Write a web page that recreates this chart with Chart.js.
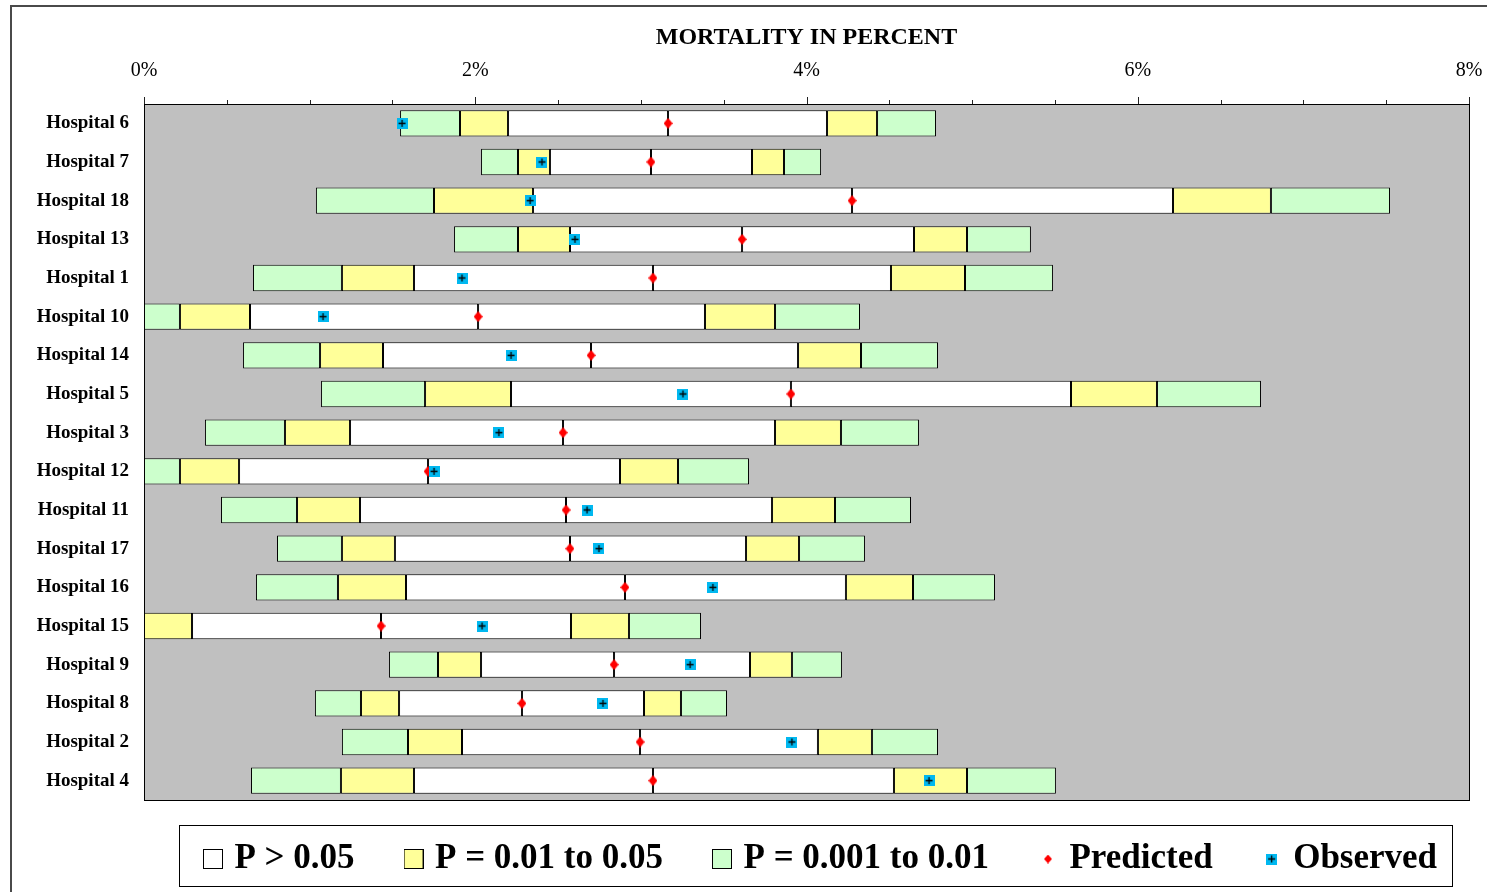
<!DOCTYPE html>
<html>
<head>
<meta charset="utf-8">
<title>Mortality in percent</title>
<script src="https://cdn.jsdelivr.net/npm/chart.js@4.4.1/dist/chart.umd.min.js"></script>
<style>
  html, body { margin: 0; padding: 0; background: #fff; }
  #wrap { position: relative; width: 1487px; height: 892px; overflow: hidden; }
  #frame { position: absolute; left: 10px; top: 5px; right: -4px; bottom: -4px;
           border-top: 2px solid #4a4a4a; border-left: 2px solid #4a4a4a; }
  canvas { position: absolute; left: 0; top: 0; }
</style>
</head>
<body>
<div id="wrap">
  <div id="frame"></div>
  <canvas id="mortalityChart" width="1487" height="892"></canvas>
</div>
<script>
// hospitals, top to bottom
const hospitals = ['Hospital 6', 'Hospital 7', 'Hospital 18', 'Hospital 13', 'Hospital 1', 'Hospital 10',
  'Hospital 14', 'Hospital 5', 'Hospital 3', 'Hospital 12', 'Hospital 11', 'Hospital 17', 'Hospital 16',
  'Hospital 15', 'Hospital 9', 'Hospital 8', 'Hospital 2', 'Hospital 4'];

// control limits (mortality %), lower side
const greenLow  = [1.546, 2.035, 1.038, 1.872, 0.658, 0, 0.598, 1.069, 0.368, 0, 0.465, 0.803, 0.676, null, 1.479, 1.032, 1.195, 0.646];
const yellowLow = [1.908, 2.258, 1.751, 2.258, 1.195, 0.217, 1.063, 1.697, 0.851, 0.217, 0.924, 1.195, 1.171, 0, 1.775, 1.310, 1.594, 1.189];
const whiteLow  = [2.198, 2.451, 2.349, 2.572, 1.630, 0.640, 1.443, 2.216, 1.244, 0.574, 1.304, 1.515, 1.582, 0.290, 2.035, 1.540, 1.920, 1.630];
// upper side
const whiteHigh  = [4.124, 3.671, 6.213, 4.649, 4.510, 3.387, 3.949, 5.597, 3.810, 2.874, 3.792, 3.635, 4.238, 2.578, 3.659, 3.019, 4.069, 4.528];
const yellowHigh = [4.426, 3.864, 6.804, 4.969, 4.957, 3.810, 4.329, 6.116, 4.208, 3.224, 4.172, 3.955, 4.643, 2.928, 3.912, 3.242, 4.395, 4.969];
const greenHigh  = [4.782, 4.088, 7.523, 5.355, 5.488, 4.323, 4.794, 6.744, 4.679, 3.653, 4.631, 4.353, 5.138, 3.363, 4.214, 3.520, 4.794, 5.506];

const predicted = [3.164, 3.061, 4.275, 3.611, 3.073, 2.017, 2.699, 3.906, 2.530, 1.715, 2.548, 2.572, 2.904, 1.431, 2.838, 2.282, 2.995, 3.073];
const observed  = [1.558, 2.403, 2.331, 2.602, 1.920, 1.081, 2.216, 3.254, 2.143, 1.751, 2.675, 2.747, 3.435, 2.041, 3.297, 2.771, 3.912, 4.740];

const xTicks = [0, 2, 4, 6, 8];
const legendLabels = ['P > 0.05', 'P = 0.01 to 0.05', 'P = 0.001 to 0.01', 'Predicted', 'Observed'];

const WHITE = '#FFFFFF', YELLOW = '#FFFF99', GREEN = '#CCFFCC', GREY = '#C0C0C0', RED = '#FF0000', CYAN = '#00B8F0';
const FONT = "'Liberation Serif', 'Times New Roman', serif";

// small canvases used as point styles
function squareIcon(color) {
  const c = document.createElement('canvas');
  c.width = 20; c.height = 20;
  const g = c.getContext('2d');
  g.fillStyle = color;
  g.fillRect(0, 0, 20, 20);
  g.strokeStyle = '#000';
  g.lineWidth = 1;
  g.strokeRect(0.5, 0.5, 19, 19);
  return c;
}
function diamondIcon(w, h) {
  const c = document.createElement('canvas');
  c.width = w; c.height = h;
  const g = c.getContext('2d');
  g.fillStyle = RED;
  g.beginPath();
  g.moveTo(w / 2, 0); g.lineTo(w, h / 2); g.lineTo(w / 2, h); g.lineTo(0, h / 2);
  g.closePath();
  g.fill();
  return c;
}
function observedIcon(s) {
  const c = document.createElement('canvas');
  c.width = s; c.height = s;
  const g = c.getContext('2d');
  g.fillStyle = CYAN;
  g.fillRect(0, 0, s, s);
  g.strokeStyle = '#000';
  g.lineWidth = 1.3;
  g.beginPath();
  g.moveTo(s / 2, 2); g.lineTo(s / 2, s - 2);
  g.moveTo(2, s / 2); g.lineTo(s - 2, s / 2);
  g.stroke();
  return c;
}

function pairs(a, b) {
  return a.map((v, i) => (v === null || b[i] === null) ? null : [v, b[i]]);
}

function barSet(label, data, color) {
  return {
    type: 'bar', label: label, data: data,
    backgroundColor: color, borderColor: '#000', borderWidth: 1, borderSkipped: false,
    grouped: false, barPercentage: 0.68, categoryPercentage: 1.0, order: 2
  };
}

const legendItems = [
  { text: legendLabels[0], pointStyle: squareIcon(WHITE) },
  { text: legendLabels[1], pointStyle: squareIcon(YELLOW) },
  { text: legendLabels[2], pointStyle: squareIcon(GREEN) },
  { text: legendLabels[3], pointStyle: diamondIcon(8, 9) },
  { text: legendLabels[4], pointStyle: observedIcon(11) }
].map(it => Object.assign(it, { fillStyle: '#fff', strokeStyle: '#000', lineWidth: 1, hidden: false, fontColor: '#000' }));

// grey plot area, frame, axis ticks, legend placement + box
const framePlugin = {
  id: 'framePlugin',
  beforeLayout(chart) {
    const lg = chart.legend;
    if (lg && !lg._fixed) {
      const fit = lg.fit;
      lg.fit = function () {
        const mw = this.maxWidth;
        this.maxWidth = 4000; // keep all five items on one row
        fit.call(this);
        this.maxWidth = mw;
        this.width = mw;
        this.height = 92;
      };
      lg._fixed = true;
    }
  },
  afterLayout(chart) {
    const lg = chart.legend, ca = chart.chartArea;
    const pad = lg.options.labels.padding;
    lg.left = ca.left - 7;
    lg.right = ca.right + 40;
    lg.top = ca.bottom + 59 - pad - 17.5;
  },
  beforeDraw(chart) {
    const { ctx, chartArea: ca } = chart;
    ctx.save();
    ctx.fillStyle = GREY;
    ctx.fillRect(ca.left, ca.top, ca.right - ca.left, ca.bottom - ca.top);
    ctx.restore();
  },
  afterDatasetsDraw(chart) {
    const { ctx, chartArea: ca } = chart;
    const x = chart.scales.x;
    ctx.save();
    ctx.strokeStyle = '#000';
    ctx.lineWidth = 1;
    ctx.strokeRect(Math.round(ca.left) + 0.5, Math.round(ca.top) + 0.5,
      Math.round(ca.right - ca.left), Math.round(ca.bottom - ca.top));
    ctx.strokeStyle = '#222';
    x.ticks.forEach(t => {
      const px = Math.round(x.getPixelForValue(t.value)) + 0.5;
      const len = xTicks.includes(t.value) ? 7 : 4;
      ctx.beginPath();
      ctx.moveTo(px, ca.top);
      ctx.lineTo(px, ca.top - len);
      ctx.stroke();
    });
    ctx.restore();
  },
  afterDraw(chart) {
    const { ctx } = chart;
    const boxes = chart.legend.legendHitBoxes;
    if (!boxes || !boxes.length) return;
    const first = boxes[0], last = boxes[boxes.length - 1];
    const cy = first.top + 17.5;
    const left = first.left - 30, right = last.left + last.width + 15;
    ctx.save();
    ctx.strokeStyle = '#000';
    ctx.lineWidth = 1;
    ctx.strokeRect(Math.round(left) + 0.5, Math.round(cy - 34) + 0.5, Math.round(right - left), 61);
    ctx.restore();
  }
};

const ctx = document.getElementById('mortalityChart').getContext('2d');
new Chart(ctx, {
  type: 'bar',
  data: {
    labels: hospitals,
    datasets: [
      {
        type: 'line', label: 'Observed', data: observed, indexAxis: 'y', showLine: false,
        pointStyle: observedIcon(11), pointRadius: 6, order: 0
      },
      {
        type: 'line', label: 'Predicted', data: predicted, indexAxis: 'y', showLine: false,
        pointStyle: diamondIcon(9, 11), pointRadius: 5, order: 1
      },
      barSet('P = 0.001 to 0.01', pairs(greenLow, yellowLow), GREEN),
      barSet('P = 0.01 to 0.05', pairs(yellowLow, whiteLow), YELLOW),
      barSet('P > 0.05', pairs(whiteLow, predicted), WHITE),
      barSet('P > 0.05 (upper)', pairs(predicted, whiteHigh), WHITE),
      barSet('P = 0.01 to 0.05 (upper)', pairs(whiteHigh, yellowHigh), YELLOW),
      barSet('P = 0.001 to 0.01 (upper)', pairs(yellowHigh, greenHigh), GREEN)
    ]
  },
  options: {
    indexAxis: 'y',
    responsive: false,
    animation: false,
    events: [],
    layout: { padding: { top: 0, right: 18, bottom: 0, left: 0 } },
    scales: {
      x: {
        position: 'top',
        min: 0,
        max: 8,
        afterFit: s => { s.height = 104; s.paddingRight = 0; s.paddingLeft = 0; },
        ticks: {
          stepSize: 0.5,
          autoSkip: false,
          maxRotation: 0,
          padding: 21,
          color: '#000',
          font: { family: FONT, size: 20 },
          callback: v => xTicks.includes(v) ? v + '%' : ''
        },
        grid: { display: false, drawTicks: false },
        border: { display: true, color: '#000' },
        title: {
          display: true,
          text: 'MORTALITY IN PERCENT',
          color: '#000',
          font: { family: FONT, size: 24, weight: 'bold' },
          padding: { top: 23, bottom: 0 }
        }
      },
      y: {
        afterFit: s => { s.width = 144; },
        grid: { display: false, drawTicks: false },
        border: { display: true, color: '#000' },
        ticks: { color: '#000', padding: 15, font: { family: FONT, size: 19, weight: 'bold' } }
      }
    },
    plugins: {
      tooltip: { enabled: false },
      legend: {
        display: true,
        position: 'bottom',
        labels: {
          usePointStyle: true,
          pointStyleWidth: 8,
          boxWidth: 20,
          boxHeight: 20,
          padding: 55,
          color: '#000',
          font: { family: FONT, size: 35, weight: 'bold' },
          generateLabels: () => legendItems
        }
      }
    }
  },
  plugins: [framePlugin]
});
</script>
</body>
</html>
